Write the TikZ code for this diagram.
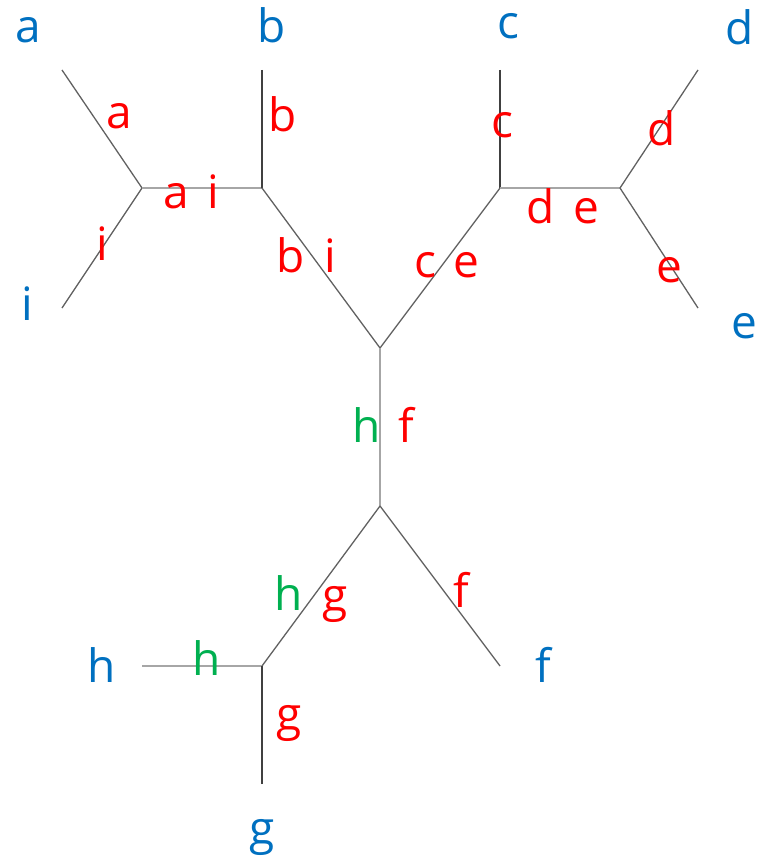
\documentclass[tikz,border=0pt]{standalone}
\usepackage{fontspec}
\setmainfont{Open Sans}
\usetikzlibrary{positioning}

\definecolor{leafblue}{HTML}{0070C0}
\definecolor{splitred}{HTML}{FF0000}
\definecolor{splitgreen}{HTML}{00B050}

\tikzset{
	leaf/.style={anchor=base,inner sep=0pt,text=leafblue},
	split/.style={anchor=base,inner sep=0pt,text=splitred},
	splitg/.style={anchor=base,inner sep=0pt,text=splitgreen},
	light/.style={draw=black!35,line width=1.3pt},
	mid/.style={draw=black!62,line width=1.3pt},
	dark/.style={draw=black!75,line width=1.3pt}
}

\begin{document}
\begin{tikzpicture}[x=1pt,y=-1pt,font=\fontsize{46}{50}\selectfont]
	\useasboundingbox (0,0) rectangle (759,861);

	% inner vertices
	\coordinate (AI) at (142,188);
	\coordinate (BI) at (262,188);
	\coordinate (CE) at (500,188);
	\coordinate (DE) at (620,188);
	\coordinate (Top) at (380,348);
	\coordinate (Fork) at (380,506);
	\coordinate (HG) at (262,666);

	% leaf ends
	\coordinate (La) at (62,70);
	\coordinate (Li) at (62,308);
	\coordinate (Lb) at (262,70);
	\coordinate (Lc) at (500,70);
	\coordinate (Ld) at (698,70);
	\coordinate (Le) at (698,308);
	\coordinate (Lf) at (500,666);
	\coordinate (Lh) at (142,666);
	\coordinate (Lg) at (262,784);

	\path (La) edge [mid] (AI)
	      (Li) edge [mid] (AI)
	      (AI) edge [light] (BI)
	      (Lb) edge [dark] (BI)
	      (BI) edge [mid] (Top)
	      (Lc) edge [dark] (CE)
	      (CE) edge [mid] (Top)
	      (CE) edge [light] (DE)
	      (Ld) edge [mid] (DE)
	      (Le) edge [mid] (DE)
	      (Top) edge [light] (Fork)
	      (Fork) edge [mid] (HG)
	      (Fork) edge [mid] (Lf)
	      (Lh) edge [light] (HG)
	      (Lg) edge [dark] (HG);

	% taxa
	\node[leaf](ta) at (28,43) {a};
	\node[leaf](tb) at (272,43) {b};
	\node[leaf](tc) at (508,39) {c};
	\node[leaf](td) at (740,45) {d};
	\node[leaf](te) at (744,338) {e};
	\node[leaf](ti) at (27,320) {i};
	\node[leaf](th) at (102,682) {h};
	\node[leaf](tf) at (543,682) {f};
	\node[leaf](tg) at (262,844) {g};

	% splits on the edges
	\node[split](sa) at (119,129) {a};
	\node[split](si) at (102,260) {i};
	\node[split](sai1) at (176,208) {a};
	\node[split](sai2) at (213,208) {i};
	\node[split](sb) at (283,132) {b};
	\node[split](sbi1) at (291,272) {b};
	\node[split](sbi2) at (330,272) {i};
	\node[split](sc) at (502,138) {c};
	\node[split](sce1) at (425,277) {c};
	\node[split](sce2) at (466,277) {e};
	\node[split](sde1) at (541,223) {d};
	\node[split](sde2) at (586,223) {e};
	\node[split](sd) at (662,146) {d};
	\node[split](se) at (669,282) {e};
	\node[splitg](shf1) at (367,442) {h};
	\node[split](shf2) at (406,442) {f};
	\node[splitg](shg1) at (289,610) {h};
	\node[split](shg2) at (335,611) {g};
	\node[split](sf) at (461,607) {f};
	\node[splitg](sh) at (207,675) {h};
	\node[split](sg) at (289,730) {g};
\end{tikzpicture}
\end{document}
